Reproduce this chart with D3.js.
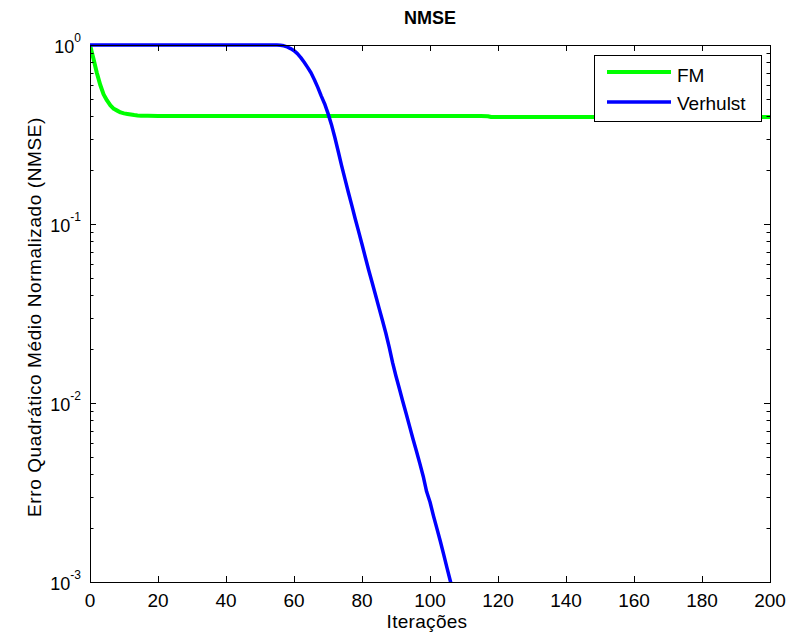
<!DOCTYPE html>
<html><head><meta charset="utf-8">
<script src="https://cdn.jsdelivr.net/npm/d3@7"></script>
<style>body{margin:0;background:#fff}svg{display:block}text{font-family:"Liberation Sans",Arial,sans-serif;fill:#000}</style>
</head><body><svg id="c" width="787" height="638"></svg>
<script>
const seriesNames = ["FM", "Verhulst"];
const xTicks = [0,20,40,60,80,100,120,140,160,180,200];
const yTickExps = [0,-1,-2,-3];
// FM (green)
const fmIter = [0,1,2,3,4,5,6,7,8,9,10,11,12,13,14,15,17,20,30,40,60,80,100,115,117,118,140,160,180,200];
const fmVals = [1.0,0.84,0.70,0.60,0.53,0.49,0.46,0.44,0.43,0.42,0.415,0.412,0.409,0.406,0.404,0.403,0.402,0.401,0.401,0.401,0.401,0.401,0.401,0.401,0.400,0.396,0.396,0.396,0.396,0.396];
// Verhulst (blue)
const vhIter = [0,10,20,30,40,50,55,56,57,58,59,60,61,62,63,64,65,66,67,68,69,70,71,72,73,74,75,76,77,78,79,80,81,82,83,84,85,86,87,88,89,90,91,92,93,94,95,96,97,98,99,100,101,102,103,104,105,106,107,108];
const vhVals = [1,1,1,1,1,1,1,0.998,0.99,0.975,0.955,0.93,0.895,0.85,0.80,0.75,0.70,0.64,0.58,0.52,0.47,0.415,0.36,0.305,0.255,0.212,0.178,0.15,0.127,0.107,0.091,0.077,0.065,0.055,0.047,0.040,0.034,0.029,0.0246,0.0205,0.0168,0.0141,0.0120,0.0102,0.0087,0.0074,0.0063,0.0054,0.0046,0.0039,0.0032,0.0028,0.00235,0.002,0.0017,0.00143,0.0012,0.00101,0.00086,0.00073];

const L=90,R=770,T=45,B=582;
const svg=d3.select("#c");
const x=d3.scaleLinear().domain([0,200]).range([L,R]);
const y=d3.scaleLog().domain([1e-3,1]).range([B,T]);

svg.append("rect").attr("x",L).attr("y",T).attr("width",R-L).attr("height",B-T).attr("fill","#fff");

svg.append("clipPath").attr("id","cp").append("rect").attr("x",L).attr("y",T-3).attr("width",R-L+2).attr("height",B-T+3);

const line=d3.line().x(d=>x(d[0])).y(d=>y(d[1]));
const g=svg.append("g").attr("clip-path","url(#cp)");
g.append("path").datum(fmIter.map((v,i)=>[v,fmVals[i]])).attr("d",line).attr("fill","none").attr("stroke","#00ff00").attr("stroke-width",4).attr("stroke-linejoin","round");
g.append("path").datum(vhIter.map((v,i)=>[v,vhVals[i]])).attr("d",line).attr("fill","none").attr("stroke","#0000ff").attr("stroke-width",3.5).attr("stroke-linejoin","round");

// frame
svg.append("rect").attr("x",L+0.5).attr("y",T+0.5).attr("width",R-L).attr("height",B-T).attr("fill","none").attr("stroke","#000").attr("stroke-width",1);

// x ticks
const xa=svg.append("g");
xTicks.forEach(t=>{
  const px=Math.round(x(t))+0.5;
  xa.append("line").attr("x1",px).attr("x2",px).attr("y1",B).attr("y2",B-6).attr("stroke","#000");
  xa.append("line").attr("x1",px).attr("x2",px).attr("y1",T).attr("y2",T+6).attr("stroke","#000");
  xa.append("text").attr("x",x(t)).attr("y",B+25).attr("text-anchor","middle").attr("font-size",19).text(t);
});
// y ticks
const ya=svg.append("g");
yTickExps.forEach(e=>{
  const py=Math.round(y(Math.pow(10,e)))+0.5;
  ya.append("line").attr("x1",L).attr("x2",L+6).attr("y1",py).attr("y2",py).attr("stroke","#000");
  ya.append("line").attr("x1",R).attr("x2",R-6).attr("y1",py).attr("y2",py).attr("stroke","#000");
  const tx=ya.append("text").attr("x",81).attr("y",y(Math.pow(10,e))+8).attr("text-anchor","end").attr("font-size",18);
  tx.append("tspan").text("10");
  tx.append("tspan").attr("dy",-11).attr("font-size",12).text(e);
  if(e>-3){
    for(let m=2;m<=9;m++){
      const v=m*Math.pow(10,e-1);
      const p=Math.round(y(v))+0.5;
      ya.append("line").attr("x1",L).attr("x2",L+3.5).attr("y1",p).attr("y2",p).attr("stroke","#000");
      ya.append("line").attr("x1",R).attr("x2",R-3.5).attr("y1",p).attr("y2",p).attr("stroke","#000");
    }
  }
});

svg.append("text").attr("x",430).attr("y",24).attr("text-anchor","middle").attr("font-size",18).attr("font-weight","bold").text("NMSE");
svg.append("text").attr("x",427).attr("y",628).attr("text-anchor","middle").attr("font-size",19).attr("letter-spacing",0.3).text("Iterações");
svg.append("text").attr("transform","translate(41,317) rotate(-90)").attr("text-anchor","middle").attr("font-size",19).attr("letter-spacing",0.6).text("Erro Quadrático Médio Normalizado (NMSE)");

// legend
const lg=svg.append("g");
lg.append("rect").attr("x",594.5).attr("y",55.5).attr("width",167).attr("height",66).attr("fill","#fff").attr("stroke","#000");
const cols=["#00ff00","#0000ff"];
seriesNames.forEach((n,i)=>{
  const cy=72+i*30;
  lg.append("line").attr("x1",607).attr("x2",671).attr("y1",cy).attr("y2",cy).attr("stroke",cols[i]).attr("stroke-width",i?3.5:4);
  lg.append("text").attr("x",677).attr("y",82+i*28).attr("font-size",19).text(n);
});
</script></body></html>
